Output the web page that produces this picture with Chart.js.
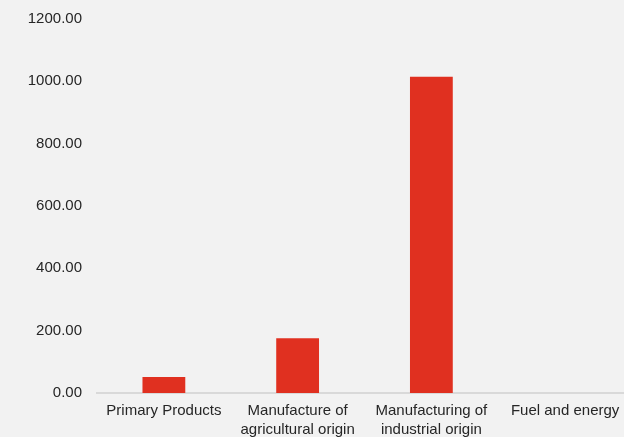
<!DOCTYPE html>
<html>
<head>
<meta charset="utf-8">
<script src="https://cdn.jsdelivr.net/npm/chart.js@4/dist/chart.umd.min.js"></script>
<style>
  html, body { margin: 0; padding: 0; background: #f2f2f2; overflow: hidden; }
  #wrap { width: 632px; height: 437px; }
</style>
</head>
<body>
<div id="wrap"><canvas id="chart"></canvas></div>
<script>
const categories = [
  'Primary Products',
  ['Manufacture of', 'agricultural origin'],
  ['Manufacturing of', 'industrial origin'],
  'Fuel and energy'
];

const values = [51, 176, 1015, 0];

const yTicks = [0, 200, 400, 600, 800, 1000, 1200];

const barColor = 'rgb(224, 48, 32)';

const data = {
  labels: categories,
  datasets: [{
    label: 'Value',
    data: values,
    backgroundColor: barColor,
    borderWidth: 0,
    barPercentage: 0.32,
    categoryPercentage: 1
  }]
};

const config = {
  type: 'bar',
  data: data,
  options: {
    responsive: true,
    maintainAspectRatio: false,
    animation: false,
    layout: { padding: { top: 19, right: 0, bottom: 0, left: 0 } },
    plugins: {
      legend: { display: false },
      tooltip: { enabled: false }
    },
    scales: {
      x: {
        grid: { display: false, drawTicks: false },
        border: { display: true, color: '#d9d9d9', width: 2 },
        ticks: {
          color: '#262626',
          font: { family: 'Liberation Sans, Arial', size: 15, lineHeight: 1.3 },
          padding: 8,
          maxRotation: 0,
          autoSkip: false
        },
        afterFit: (scale) => { scale.height = 44; }
      },
      y: {
        min: 0,
        max: 1200,
        afterBuildTicks: (scale) => {
          scale.ticks = yTicks.map(v => ({ value: v }));
        },
        grid: { display: false, drawTicks: false },
        border: { display: false },
        ticks: {
          color: '#262626',
          font: { family: 'Liberation Sans, Arial', size: 15 },
          padding: 15,
          callback: (v) => Number(v).toFixed(2)
        },
        afterFit: (scale) => {
          scale.width = 97;
          scale.paddingTop = 0;
          scale.paddingBottom = 0;
        }
      }
    }
  }
};

new Chart(document.getElementById('chart'), config);
</script>
</body>
</html>
